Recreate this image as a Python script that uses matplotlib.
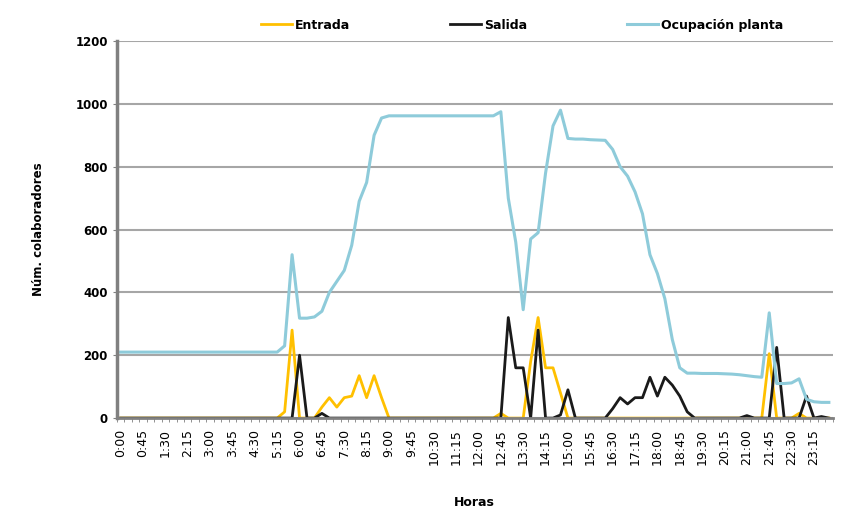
import numpy as np
import matplotlib
matplotlib.use("Agg")
import matplotlib.pyplot as plt

# horas cada 15 minutos
horas = ["%d:%02d" % (m // 60, m % 60) for m in range(0, 24 * 60, 15)]

entrada = [0] * 22 + [20, 280, 0, 0, 0, 35, 65, 35, 65, 70, 135, 65, 135, 65, 0] \
    + [0] * 14 + [15, 0, 0, 0, 180, 320, 160, 160, 80, 0] \
    + [0] * 26 + [205, 0, 0, 0, 15, 0, 0, 0, 0]

salida = [0] * 23 + [0, 200, 0, 0, 15, 0] + [0] * 23 \
    + [320, 160, 160, 0, 280, 0, 0, 10, 90, 0, 0, 0, 0, 0] \
    + [30, 65, 45, 65, 65, 130, 70, 130, 105, 70, 20, 0] \
    + [0] * 6 + [8, 0, 0, 0, 225, 0, 0, 0, 70, 0, 5, 0]

ocupacion = [210] * 22 + [230, 520, 318, 318, 322, 340, 400, 435, 470, 550, 690, 750, 900, 955] \
    + [962] * 15 + [975, 700, 560, 345, 570, 590, 780, 930, 980, 890, 888, 888, 886, 885, 884] \
    + [855, 800, 770, 720, 650, 520, 460, 380, 250, 160, 143, 143, 142, 142, 142, 141, 140, 138] \
    + [135, 132, 130, 335, 110, 110, 112, 125, 60, 52, 50, 50]

x = np.arange(len(horas))

fig = plt.figure(figsize=(8.47, 5.13), dpi=100)
ax = fig.add_axes([0.138, 0.185, 0.845, 0.735])

ax.plot(x, entrada, color="#FFC000", lw=2, label="Entrada")
ax.plot(x, salida, color="#1a1a1a", lw=2, label="Salida")
ax.plot(x, ocupacion, color="#8ECBDA", lw=2.2, label="Ocupación planta")

ax.set_xlim(-0.5, len(horas) - 0.5)
ax.set_ylim(0, 1200)
ax.set_yticks(range(0, 1201, 200))
ax.set_xticks(x[::3])
ax.set_xticklabels(horas[::3], rotation=90, fontsize=9)
ax.set_xticks(np.arange(-0.5, len(horas), 1), minor=True)
ax.tick_params(axis="x", which="major", length=0, pad=8)
ax.tick_params(axis="x", which="minor", length=3, color="#808080")
ax.tick_params(axis="y", length=3, color="#808080", labelsize=8.5)
for lab in ax.get_yticklabels():
    lab.set_fontweight("bold")

ax.grid(axis="y", color="#a6a6a6", lw=1.5)
ax.set_axisbelow(True)
for s in ["top", "right"]:
    ax.spines[s].set_visible(False)
ax.spines["left"].set_color("#808080")
ax.spines["left"].set_linewidth(2.5)
ax.spines["bottom"].set_color("#808080")
ax.spines["bottom"].set_linewidth(2)

ax.set_ylabel("Núm. colaboradores", fontsize=8.5, fontweight="bold", labelpad=22)
ax.set_xlabel("Horas", fontsize=9, fontweight="bold", labelpad=22)

leg = ax.legend(loc="lower center", bbox_to_anchor=(0.566, 0.995), ncol=3, frameon=False,
                prop={"size": 9, "weight": "bold"}, handlelength=2.5,
                columnspacing=8, handletextpad=0.2)

fig.savefig("out.png", dpi=100)
